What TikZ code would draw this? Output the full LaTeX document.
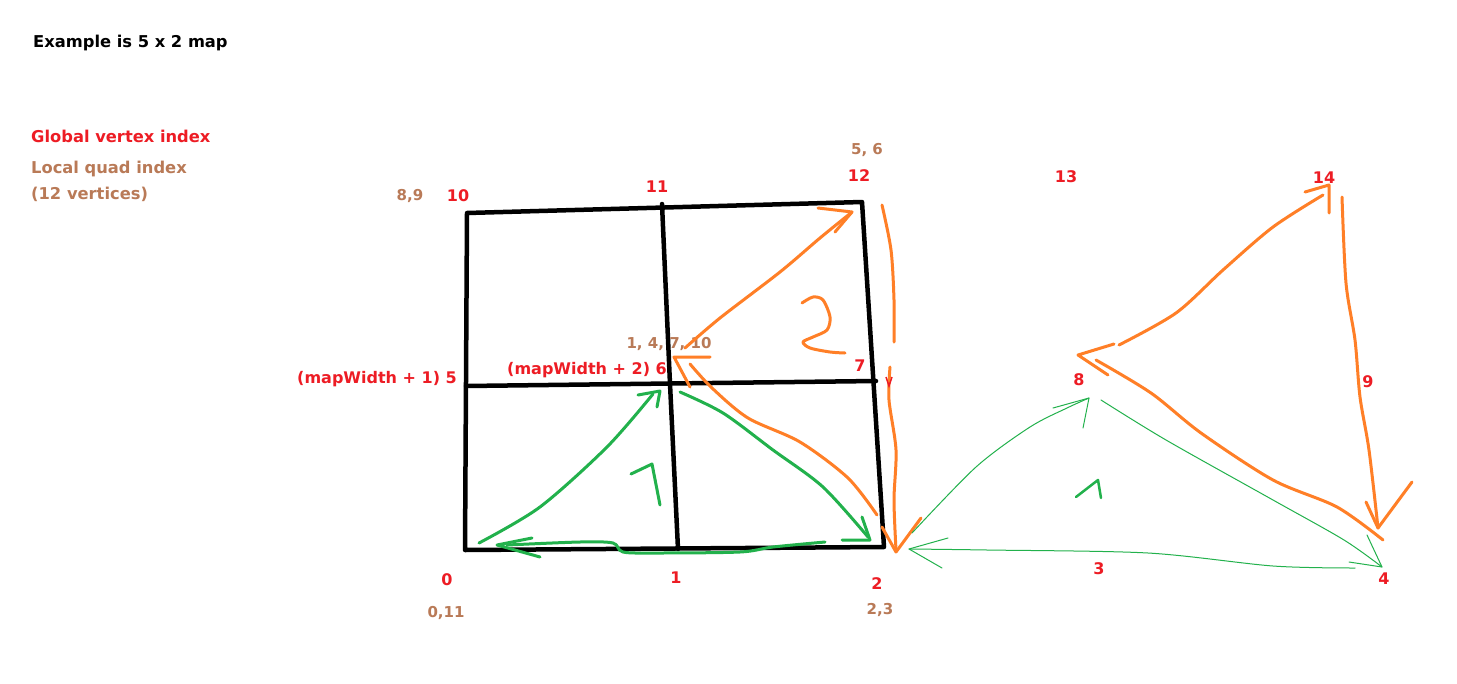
\documentclass[tikz,border=0pt]{standalone}
\usepackage{fontspec}
\setmainfont{DejaVu Sans}
\definecolor{pred}{HTML}{ED1C24}
\definecolor{pbrown}{HTML}{B97A57}
\definecolor{porange}{HTML}{FF7F27}
\definecolor{pgreen}{HTML}{22B14C}
\begin{document}
\begin{tikzpicture}[x=1pt,y=-1pt,
  lbl/.style={font=\bfseries\fontsize{15}{18}\selectfont, inner sep=0pt},
  big/.style={font=\bfseries\fontsize{16.3}{19}\selectfont},
  rlbl/.style={lbl,text=pred,font=\bfseries\fontsize{16}{19}\selectfont},
  blbl/.style={lbl,text=pbrown},
  grid/.style={draw=black,line width=4.5pt,line cap=round,line join=round},
  ostroke/.style={draw=porange,line width=3pt,line cap=round,line join=round},
  gstroke/.style={draw=pgreen,line width=3pt,line cap=round,line join=round},
  gthin/.style={draw=pgreen,line width=1pt,line cap=round,line join=round}]
\useasboundingbox (0,0) rectangle (1457,683);
\fill[white] (0,0) rectangle (1457,683);

% legend
\node[lbl,big,anchor=west] (title) at (33,43) {Example is 5 x 2 map};
\node[rlbl,big,anchor=west] (leg1) at (31,136) {Global vertex index};
\node[blbl,big,anchor=west] (leg2) at (31,169) {Local quad index};
\node[blbl,big,anchor=west] (leg3) at (31,194) {(12 vertices)};

% grid vertices
\coordinate (v10) at (467,213);
\coordinate (v11) at (662,204);
\coordinate (v12) at (862,202);
\coordinate (v5) at (466,386);
\coordinate (v6) at (670,384);
\coordinate (v7) at (876,381);
\coordinate (v0) at (465,550);
\coordinate (v1) at (678,549);
\coordinate (v2) at (884,547);
\draw[grid] (v10) -- (v12) -- (v2) -- (v0) -- cycle;
\draw[grid] (v5) -- (v7);
\draw[grid] (v11) -- (v6) -- (v1);

% vertex labels
\node[blbl] (q89) at (410,196) {8,9};
\node[rlbl] (n10) at (458,196) {10};
\node[rlbl] (n11) at (657,187) {11};
\node[blbl] (q56) at (867,150) {5, 6};
\node[rlbl] (n12) at (859,176) {12};
\node[rlbl] (n13) at (1066,177) {13};
\node[rlbl] (n14) at (1324,178) {14};
\node[blbl] (q147) at (669,344) {1, 4, 7, 10};
\node[rlbl] (n5) at (377,379) {(mapWidth + 1) 5};
\node[rlbl] (n6) at (587,370) {(mapWidth + 2) 6};
\node[rlbl] (n7) at (860,366) {7};
\node[rlbl] (n8) at (1079,380) {8};
\node[rlbl] (n9) at (1368,382) {9};
\node[rlbl] (n0) at (447,580) {0};
\node[rlbl] (n1) at (676,578) {1};
\node[rlbl] (n2) at (877,584) {2};
\node[rlbl] (n3) at (1099,569) {3};
\node[rlbl] (n4) at (1384,579) {4};
\node[blbl] (q011) at (446,613) {0,11};
\node[blbl] (q23) at (880,610) {2,3};

% ---- orange strokes ----
% 6 -> 12
\draw[ostroke] plot[smooth] coordinates {(685,348) (720,318) (780,272) (820,238) (852,212)};
\draw[ostroke] (818,208) -- (852,212) -- (835,232);
% right vertical 12 -> 2
\draw[ostroke] plot[smooth] coordinates {(882,205) (891,250) (894,300) (894,342)};
\draw[ostroke] plot[smooth] coordinates {(890,367) (889,400) (896,450) (894,500) (896,550)};
\draw[draw=pred,line width=1.5pt] (886,377) -- (889,386) -- (892,377);
\draw[ostroke] (882,527) -- (896,552) -- (921,518);
% 2 -> 6
\draw[ostroke] plot[smooth] coordinates {(877,515) (848,478) (800,442) (748,418) (712,388) (690,364)};
\draw[ostroke] (690,387) -- (674,357) -- (710,357);
% "2" squiggle
\draw[ostroke] plot[smooth] coordinates {(802,303) (813,297) (823,300) (830,317) (827,330) (813,337) (803,342) (810,348) (830,352) (845,353)};
% 8 -> 14
\draw[ostroke] plot[smooth] coordinates {(1119,345) (1176,313) (1223,270) (1273,227) (1323,195)};
\draw[ostroke] (1305,192) -- (1329,185) -- (1329,213);
% 14 -> 4
\draw[ostroke] plot[smooth] coordinates {(1342,197) (1346,283) (1355,340) (1360,397) (1369,450) (1378,528)};
\draw[ostroke] (1366,502) -- (1378,528) -- (1412,482);
% 4 -> 8
\draw[ostroke] plot[smooth] coordinates {(1383,540) (1337,507) (1273,480) (1201,433) (1151,393) (1096,360)};
\draw[ostroke] (1108,375) -- (1078,355) -- (1114,344);

% ---- green thick strokes ----
% 0 -> 6
\draw[gstroke] plot[smooth] coordinates {(479,543) (540,507) (607,447) (653,394)};
\draw[gstroke] (638,395) -- (660,391) -- (657,407);
% 6 -> 2
\draw[gstroke] plot[smooth] coordinates {(680,392) (723,413) (773,450) (823,487) (868,537)};
\draw[gstroke] (862,517) -- (870,540) -- (842,540);
% 2 -> 0
\draw[gstroke] plot[smooth] coordinates {(825,542) (773,547) (740,552) (657,553) (623,552) (613,543) (580,542) (507,545)};
\draw[gstroke] (532,538) -- (497,545) -- (540,557);
% winding mark
\draw[gstroke] (631,474) -- (652,464) -- (660,505);

% ---- green thin strokes ----
% 2 -> 8
\draw[gthin] plot[smooth] coordinates {(912,533) (976,467) (1030,427) (1067,408) (1089,398)};
\draw[gthin] (1053,408) -- (1089,398) -- (1083,428);
% 8 -> 4
\draw[gthin] plot[smooth] coordinates {(1101,400) (1166,440) (1273,500) (1344,540) (1382,567)};
\draw[gthin] (1367,535) -- (1382,567) -- (1349,562);
% 4 -> 2
\draw[gthin] plot[smooth] coordinates {(1355,568) (1273,566) (1148,553) (987,550) (909,549)};
\draw[gthin] (948,538) -- (909,549) -- (942,568);
% winding mark
\draw[gstroke,line width=2.5pt] (1076,497) -- (1098,480) -- (1101,498);
\end{tikzpicture}
\end{document}
